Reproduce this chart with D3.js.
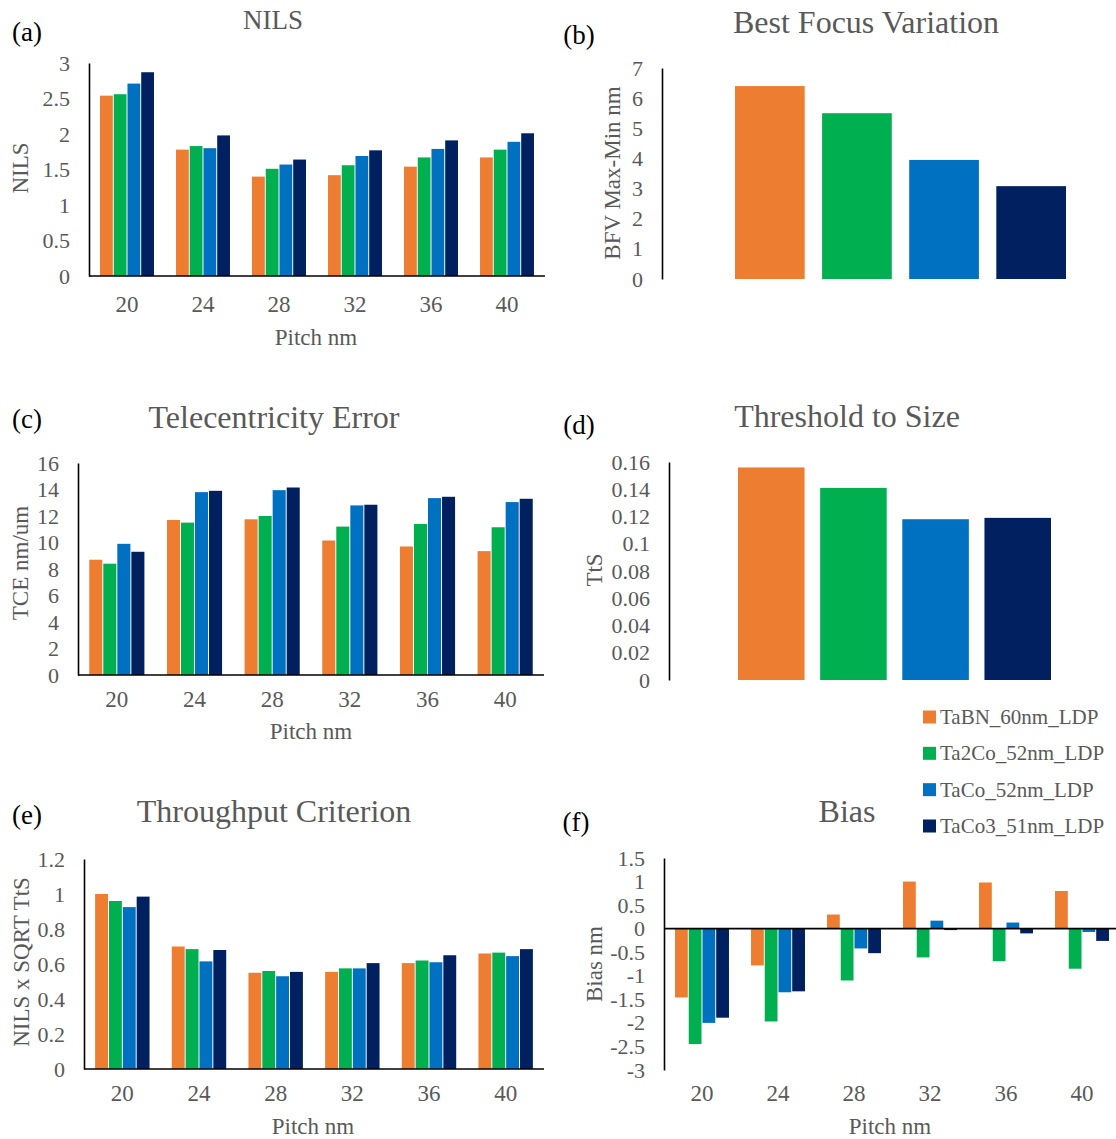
<!DOCTYPE html>
<html>
<head>
<meta charset="utf-8">
<script src="https://cdn.jsdelivr.net/npm/d3@7"></script>
<style>
  body { margin: 0; background: #fff; }
  svg { display: block; }
  text { font-family: "Liberation Serif", "Times New Roman", serif; }
</style>
</head>
<body>
<svg id="fig" width="1116" height="1139"></svg>
<script>
// ---- data ----
const pitches = ["20", "24", "28", "32", "36", "40"];
const seriesNames = ["TaBN_60nm_LDP", "Ta2Co_52nm_LDP", "TaCo_52nm_LDP", "TaCo3_51nm_LDP"];
const seriesColors = ["#ED7D31", "#00B050", "#0070C0", "#002060"];

// one row per series, one value per pitch
const nilsValues = [
  [2.54, 1.78, 1.40, 1.42, 1.54, 1.67],
  [2.56, 1.83, 1.51, 1.56, 1.67, 1.78],
  [2.71, 1.80, 1.57, 1.69, 1.79, 1.89],
  [2.87, 1.98, 1.64, 1.77, 1.91, 2.01]
];
const tceValues = [
  [8.7, 11.7, 11.75, 10.15, 9.7, 9.35],
  [8.4, 11.5, 12.0, 11.2, 11.4, 11.15],
  [9.9, 13.8, 13.95, 12.8, 13.35, 13.05],
  [9.3, 13.9, 14.15, 12.85, 13.45, 13.3]
];
const throughputValues = [
  [1.00, 0.70, 0.55, 0.555, 0.605, 0.66],
  [0.96, 0.685, 0.56, 0.575, 0.62, 0.665],
  [0.925, 0.615, 0.53, 0.575, 0.61, 0.645],
  [0.985, 0.68, 0.555, 0.605, 0.65, 0.685]
];
const biasValues = [
  [-1.46, -0.78, 0.30, 1.00, 0.98, 0.80],
  [-2.45, -1.97, -1.10, -0.61, -0.69, -0.85],
  [-2.00, -1.35, -0.42, 0.17, 0.13, -0.07],
  [-1.89, -1.33, -0.52, -0.03, -0.10, -0.26]
];
// one value per series
const bfvValues = [6.4, 5.5, 3.95, 3.08];
const ttsValues = [0.156, 0.141, 0.118, 0.119];

// tick labels
const nilsTicks = [0, 0.5, 1, 1.5, 2, 2.5, 3];
const bfvTicks = [0, 1, 2, 3, 4, 5, 6, 7];
const tceTicks = [0, 2, 4, 6, 8, 10, 12, 14, 16];
const ttsTicks = [0, 0.02, 0.04, 0.06, 0.08, 0.1, 0.12, 0.14, 0.16];
const throughputTicks = [0, 0.2, 0.4, 0.6, 0.8, 1, 1.2];
const biasTicks = [-3, -2.5, -2, -1.5, -1, -0.5, 0, 0.5, 1, 1.5];

// ---- drawing ----
const svg = d3.select("#fig");
const textGray = "#595959";
const fmt = d => String(+d.toFixed(4));

function drawYAxis(g, y, ticks, xPos) {
  const ax = g.append("g")
    .attr("transform", `translate(${xPos},0)`)
    .call(d3.axisLeft(y).tickValues(ticks).tickFormat(fmt).tickSize(0).tickSizeOuter(0).tickPadding(19));
  ax.select(".domain").attr("stroke", "#000").attr("stroke-width", 1.6);
  ax.selectAll("text").attr("fill", textGray).attr("font-size", 22)
    .attr("font-family", "Liberation Serif, serif");
}

function drawTexts(g, o) {
  g.append("text").attr("x", o.titleX).attr("y", o.titleY)
    .attr("text-anchor", "middle").attr("dominant-baseline", "central")
    .attr("font-size", o.titleSize || 32).attr("fill", textGray).text(o.title);
  g.append("text").attr("x", o.labelX).attr("y", o.labelY)
    .attr("text-anchor", "middle").attr("dominant-baseline", "central")
    .attr("font-size", 27).attr("fill", "#000").text(o.label);
  g.append("text")
    .attr("transform", `translate(${o.yTitleX},${o.yTitleY}) rotate(-90)`)
    .attr("text-anchor", "middle").attr("dominant-baseline", "central")
    .attr("font-size", 23).attr("fill", textGray).text(o.yTitle);
  if (o.xTitle) {
    g.append("text").attr("x", o.xTitleX).attr("y", o.xTitleY)
      .attr("text-anchor", "middle").attr("dominant-baseline", "central")
      .attr("font-size", 23).attr("fill", textGray).text(o.xTitle);
  }
}

// grouped bars: categories = pitches, groups = series
function groupedPanel(o) {
  const g = svg.append("g");
  const x = d3.scaleBand().domain(pitches).range([o.x0, o.x1]).paddingInner(0.29).paddingOuter(0.145);
  const xs = d3.scaleBand().domain(d3.range(seriesNames.length)).range([0, x.bandwidth()]).paddingInner(0.07);
  const y = d3.scaleLinear().domain(o.domain).range([o.yBottom, o.yTop]);

  const rows = [];
  o.values.forEach((row, si) => row.forEach((v, pi) => rows.push({ si, p: pitches[pi], v })));
  g.selectAll("rect").data(rows).join("rect")
    .attr("x", d => x(d.p) + xs(d.si))
    .attr("width", xs.bandwidth())
    .attr("y", d => y(Math.max(0, d.v)))
    .attr("height", d => Math.abs(y(d.v) - y(0)))
    .attr("fill", d => seriesColors[d.si]);

  drawYAxis(g, y, o.ticks, o.x0);

  // baseline at zero
  g.append("line").attr("x1", o.x0).attr("x2", o.x1)
    .attr("y1", y(0)).attr("y2", y(0))
    .attr("stroke", "#000").attr("stroke-width", 1.6);

  // category labels
  const xa = g.append("g").attr("transform", `translate(0,${o.tickY})`)
    .call(d3.axisBottom(x).tickSize(0).tickPadding(0));
  xa.select(".domain").remove();
  xa.selectAll("text").attr("dy", "0.35em").attr("fill", textGray).attr("font-size", 23)
    .attr("font-family", "Liberation Serif, serif");

  drawTexts(g, o);
}

// single category: one bar per series
function seriesPanel(o) {
  const g = svg.append("g");
  const x = d3.scaleBand().domain(seriesNames).range([o.barX0, o.barX1]).paddingInner(o.pad);
  const y = d3.scaleLinear().domain(o.domain).range([o.yBottom, o.yTop]);
  g.selectAll("rect").data(o.values).join("rect")
    .attr("x", (d, i) => x(seriesNames[i]))
    .attr("width", x.bandwidth())
    .attr("y", d => y(d))
    .attr("height", d => y(0) - y(d))
    .attr("fill", (d, i) => seriesColors[i]);
  drawYAxis(g, y, o.ticks, o.x0);
  drawTexts(g, o);
}

groupedPanel({
  values: nilsValues, domain: [0, 3], ticks: nilsTicks,
  x0: 89, x1: 545, yBottom: 276, yTop: 63, tickY: 304,
  title: "NILS", titleSize: 27, titleX: 273, titleY: 20,
  label: "(a)", labelX: 27, labelY: 32,
  yTitle: "NILS", yTitleX: 20, yTitleY: 168,
  xTitle: "Pitch nm", xTitleX: 316, xTitleY: 337
});

seriesPanel({
  values: bfvValues, domain: [0, 7], ticks: bfvTicks,
  x0: 662, barX0: 735, barX1: 1066, pad: 0.2, yBottom: 279, yTop: 68,
  title: "Best Focus Variation", titleX: 866, titleY: 22,
  label: "(b)", labelX: 579, labelY: 35,
  yTitle: "BFV Max-Min nm", yTitleX: 612, yTitleY: 173
});

groupedPanel({
  values: tceValues, domain: [0, 16], ticks: tceTicks,
  x0: 78, x1: 544, yBottom: 675, yTop: 463, tickY: 699,
  title: "Telecentricity Error", titleX: 274, titleY: 417,
  label: "(c)", labelX: 27, labelY: 419,
  yTitle: "TCE nm/um", yTitleX: 20, yTitleY: 563,
  xTitle: "Pitch nm", xTitleX: 311, xTitleY: 731
});

seriesPanel({
  values: ttsValues, domain: [0, 0.16], ticks: ttsTicks,
  x0: 669, barX0: 738, barX1: 1051, pad: 0.19, yBottom: 680, yTop: 462,
  title: "Threshold to Size", titleX: 847, titleY: 416,
  label: "(d)", labelX: 579, labelY: 425,
  yTitle: "TtS", yTitleX: 594, yTitleY: 570
});

groupedPanel({
  values: throughputValues, domain: [0, 1.2], ticks: throughputTicks,
  x0: 84, x1: 544, yBottom: 1069, yTop: 859, tickY: 1093,
  title: "Throughput  Criterion", titleX: 274, titleY: 811,
  label: "(e)", labelX: 27, labelY: 815,
  yTitle: "NILS x SQRT TtS", yTitleX: 21, yTitleY: 962,
  xTitle: "Pitch nm", xTitleX: 313, xTitleY: 1126
});

groupedPanel({
  values: biasValues, domain: [-3, 1.5], ticks: biasTicks,
  x0: 664, x1: 1120, yBottom: 1070, yTop: 858, tickY: 1093,
  title: "Bias", titleX: 847, titleY: 811,
  label: "(f)", labelX: 576, labelY: 822,
  yTitle: "Bias nm", yTitleX: 594, yTitleY: 964,
  xTitle: "Pitch nm", xTitleX: 890, xTitleY: 1126
});

// legend
const legend = svg.append("g");
const legendY = d3.scalePoint().domain(seriesNames).range([717, 826]);
seriesNames.forEach((name, i) => {
  legend.append("rect").attr("x", 923).attr("y", legendY(name) - 6.5)
    .attr("width", 13).attr("height", 13).attr("fill", seriesColors[i]);
  legend.append("text").attr("x", 940).attr("y", legendY(name))
    .attr("dominant-baseline", "central").attr("font-size", 21)
    .attr("fill", textGray).text(name);
});
</script>
</body>
</html>
